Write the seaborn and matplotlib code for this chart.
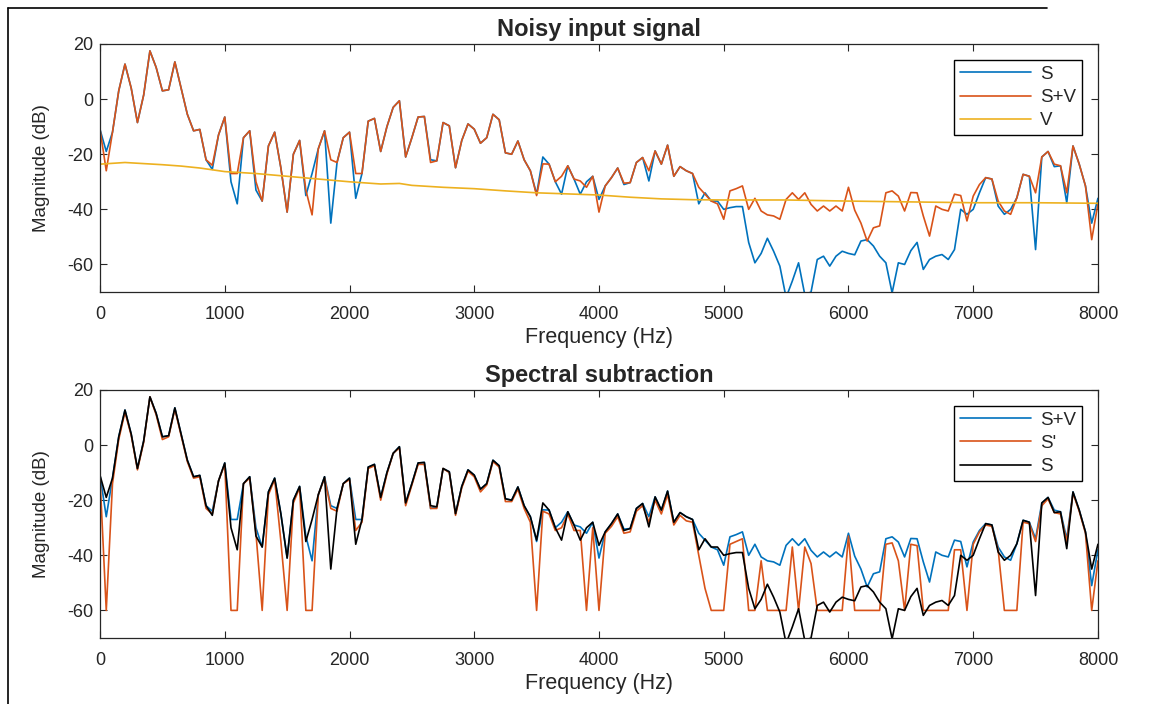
import numpy as np
import pandas as pd
import seaborn as sns
import matplotlib.pyplot as plt

# frequency grid (Hz), 50 Hz steps
freq = list(range(0, 8001, 50))

# noisy spectrum S+V (dB)
noisy = [-11, -26, -12, 3, 12.7, 4, -8.5, 1.5, 17.5, 11.5, 3, 3.4, 13.5, 4, -5.5, -11.5, -11,
         -22, -24, -13, -6.5, -27, -27, -14, -11.5, -30, -37, -17, -12, -25, -41, -20, -15,
         -33, -42, -18, -11.5, -22, -23, -14, -12, -27, -27, -8, -7, -19, -10, -3, -0.6,
         -21, -14, -6.5, -6.3, -23, -22.4, -8.5, -9.7, -24.9, -15, -9, -10.9, -16, -14,
         -5.5, -7.5, -19.5, -20, -15.2, -22, -26, -35, -23.5, -23.6, -30, -28, -24.2, -29,
         -29.7, -32, -28, -41, -31.5, -28.5, -25, -30.5, -30.3, -23, -21.2, -26, -18.8,
         -23.6, -16.7, -28, -24.5, -26, -27, -32, -34.5, -37, -38, -43.6, -33.3, -32.5,
         -31.5, -40, -36, -40.6, -42, -42.4, -43.6, -36.4, -34, -36.4, -34, -38.2, -40.6,
         -38.8, -40.6, -38.8, -40.6, -32, -40.3, -45, -51.5, -46.7, -46, -34, -33.3, -35.2,
         -40.6, -33.9, -34, -42.4, -49.7, -38.8, -40, -40.6, -34.5, -35, -44.2, -35.2, -31,
         -28.5, -29, -37, -40.6, -41.8, -35.8, -27.3, -28, -34, -21, -19, -23.6, -24.2, -34,
         -17, -23.6, -31.5, -51, -38]

# clean speech S (dB)
clean = [-11, -19, -12, 3, 12.7, 4, -8.5, 1.5, 17.5, 11.5, 3, 3.4, 13.5, 4, -5.5, -11.5, -11,
         -22, -25.5, -13, -6.5, -30, -38, -14, -11.5, -33, -37, -17, -12, -25, -41, -20, -15,
         -35, -27, -18, -11.5, -45, -23, -14, -12, -36, -27, -8, -7, -19, -10, -3, -0.6,
         -21, -14, -6.5, -6.3, -22, -22.4, -8.5, -9.7, -24.9, -15, -9, -10.9, -16, -14,
         -5.5, -7.5, -19.5, -20, -15.2, -22, -26, -34.5, -21, -23.6, -30, -34.5, -24.2, -29,
         -34.5, -30, -28, -36.4, -31.5, -28.5, -25, -31, -30.3, -23, -21.2, -29.7, -18.8,
         -23.6, -16.7, -28, -24.5, -26, -27, -38, -34, -37, -37, -40, -39.4, -39, -39, -52,
         -59.4, -56, -50.5, -55.2, -60.6, -72, -66, -59.4, -71, -70, -58.2, -57, -60.6, -57,
         -55.2, -56, -56.5, -51.5, -51, -53.3, -57, -59.4, -70.3, -59.4, -60, -55, -52,
         -61.8, -58.2, -57, -56.4, -58.2, -54.6, -40, -41.8, -40, -34, -28.5, -29, -38.8,
         -41.8, -40, -35.8, -27.3, -28, -54.6, -21, -19, -24.5, -24.2, -37.6, -17, -23.6,
         -31.5, -45, -36]

# spectral subtraction result S' (dB), floored at -60
subtracted = [-12, -60, -14, 2, 12, 3.5, -9, 1, 17.5, 11, 2, 3, 13, 3.5, -6, -12, -11.5,
              -23, -25, -13, -7, -60, -60, -14, -12, -32, -60, -18, -12.5, -35, -60, -21,
              -15.5, -60, -60, -18, -12, -23, -24, -14, -12.5, -31, -28, -8.5, -7.5, -20,
              -10.5, -3, -1, -22, -14.5, -7, -7, -23, -23, -8.5, -10, -25.5, -15.5, -9.5,
              -11.5, -17, -14.5, -6, -8, -20.5, -20.5, -16, -23, -28, -60, -24, -25, -31, -30,
              -25, -31, -31, -60, -30, -60, -32, -29.5, -26, -32, -31.5, -24, -22, -28, -20,
              -25, -18, -29, -25.5, -27.5, -28, -40, -52, -60, -60, -60, -36, -35, -34, -60,
              -60, -42, -60, -60, -60, -60, -37, -60, -37, -43, -60, -60, -60, -60, -60, -33,
              -60, -60, -60, -60, -60, -36, -35.5, -42, -60, -36, -36.5, -60, -60, -60, -60,
              -60, -38, -38, -60, -36, -31.5, -29, -29.5, -38, -60, -60, -60, -28, -28.5, -35,
              -22, -19.5, -24.5, -25, -35, -17.5, -24, -32, -60, -42]

# noise estimate V (dB)
v_freq = [0, 200, 350, 500, 650, 800, 1000, 1250, 1500, 1750, 2000, 2250, 2400, 2500, 2750,
          3000, 3250, 3500, 3750, 4000, 4250, 4500, 4750, 5000, 5500, 6000, 6500, 7000,
          7500, 8000]
v_db = [-23.6, -23, -23.4, -23.8, -24.3, -25, -26.3, -27, -28, -29, -30, -30.8, -30.6, -31.3,
        -32, -32.5, -33.3, -34, -34.4, -34.8, -35.6, -36.2, -36.5, -36.6, -36.6, -37, -37.3,
        -37.6, -37.6, -37.8]

blue = '#0072BD'
orange = '#D95319'
yellow = '#EDB120'

sns.set_style('ticks')
plt.rcParams['font.family'] = ['Liberation Sans', 'DejaVu Sans']
plt.rcParams['axes.unicode_minus'] = False

top = pd.concat([
    pd.DataFrame({'f': freq, 'db': clean, 'sig': 'S'}),
    pd.DataFrame({'f': freq, 'db': noisy, 'sig': 'S+V'}),
    pd.DataFrame({'f': v_freq, 'db': v_db, 'sig': 'V'}),
], ignore_index=True)

bottom = pd.concat([
    pd.DataFrame({'f': freq, 'db': noisy, 'sig': 'S+V'}),
    pd.DataFrame({'f': freq, 'db': subtracted, 'sig': "S'"}),
    pd.DataFrame({'f': freq, 'db': clean, 'sig': 'S'}),
], ignore_index=True)

fig = plt.figure(figsize=(11.51, 7.04), dpi=100)
ax1 = fig.add_axes([0.0869, 0.5852, 0.867, 0.3523])
ax2 = fig.add_axes([0.0869, 0.0938, 0.867, 0.3523])

sns.lineplot(data=top, x='f', y='db', hue='sig', palette=[blue, orange, yellow],
             estimator=None, linewidth=1.2, ax=ax1)
sns.lineplot(data=bottom, x='f', y='db', hue='sig', palette=[blue, orange, 'black'],
             estimator=None, linewidth=1.2, ax=ax2)

for ax, title in [(ax1, 'Noisy input signal'), (ax2, 'Spectral subtraction')]:
    ax.set_xlim(0, 8000)
    ax.set_ylim(-70, 20)
    ax.set_xticks(range(0, 8001, 1000))
    ax.set_yticks([-60, -40, -20, 0, 20])
    ax.set_title(title, fontsize=17, fontweight='bold', pad=6)
    ax.set_xlabel('Frequency (Hz)', fontsize=15.5, labelpad=3)
    ax.set_ylabel('Magnitude (dB)', fontsize=13.5, labelpad=12)
    ax.tick_params(direction='in', top=True, right=True, labelsize=13, length=5,
                   width=0.8, colors='#262626')
    ax.tick_params(axis='x', pad=10)
    ax.tick_params(axis='y', pad=5)
    for s in ax.spines.values():
        s.set_visible(True)
        s.set_color('#262626')
        s.set_linewidth(0.9)
    leg = ax.legend(loc='upper right', bbox_to_anchor=(1 - 16 / 998, 1 - 16 / 248),
                    borderaxespad=0, fontsize=13.5, handlelength=3.8, handletextpad=0.5,
                    labelspacing=0.33, borderpad=0.3, frameon=True, fancybox=False,
                    edgecolor='black', framealpha=1, title=None)
    leg.get_frame().set_linewidth(1.0)

# page frame lines seen in the scan
fig.add_artist(plt.Line2D([0.007, 0.007], [0, 0.989], color='black', lw=1.2))
fig.add_artist(plt.Line2D([0.007, 0.91], [0.989, 0.989], color='black', lw=1.2))

fig.savefig('out.png', dpi=100)
